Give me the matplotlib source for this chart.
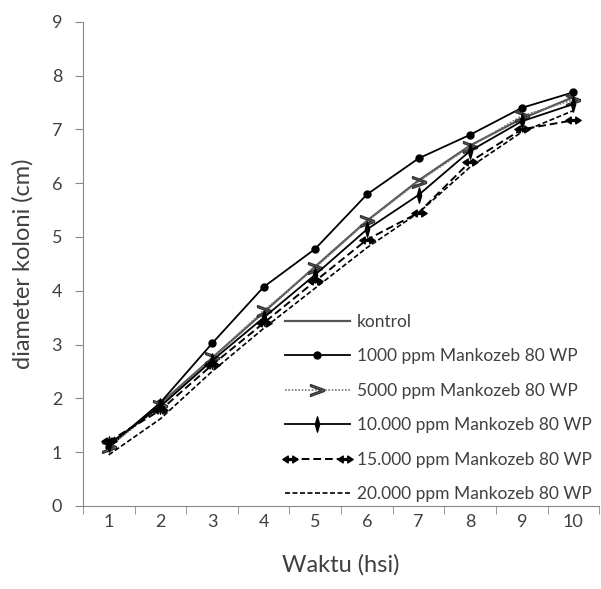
import numpy as np
import matplotlib
matplotlib.use("Agg")
import matplotlib.pyplot as plt
from matplotlib.legend_handler import HandlerLine2D
from matplotlib.path import Path

plt.rcParams['font.family'] = ['Lato', 'DejaVu Sans']

# data
days = [1, 2, 3, 4, 5, 6, 7, 8, 9, 10]
kontrol = [1.10, 1.90, 2.75, 3.60, 4.45, 5.30, 6.05, 6.70, 7.20, 7.60]
ppm1000 = [1.10, 1.92, 3.02, 4.07, 4.78, 5.79, 6.46, 6.90, 7.40, 7.69]
ppm5000 = [1.10, 1.85, 2.75, 3.63, 4.43, 5.29, 6.03, 6.68, 7.25, 7.55]
ppm10000 = [1.15, 1.85, 2.70, 3.50, 4.30, 5.14, 5.78, 6.60, 7.15, 7.47]
ppm15000 = [1.20, 1.78, 2.62, 3.40, 4.18, 4.95, 5.45, 6.40, 7.00, 7.17]
ppm20000 = [0.95, 1.62, 2.50, 3.30, 4.05, 4.80, 5.45, 6.30, 6.95, 7.35]
labels = ["kontrol", "1000 ppm Mankozeb 80 WP", "5000 ppm Mankozeb 80 WP",
          "10.000 ppm Mankozeb 80 WP", "15.000 ppm Mankozeb 80 WP",
          "20.000 ppm Mankozeb 80 WP"]

txt = "#404040"

# double arrow marker
darrow = Path([(-1, 0), (-0.3, 0.45), (-0.3, 0.12), (0.3, 0.12), (0.3, 0.45), (1, 0),
               (0.3, -0.45), (0.3, -0.12), (-0.3, -0.12), (-0.3, -0.45), (-1, 0)],
              [Path.MOVETO] + [Path.LINETO] * 9 + [Path.CLOSEPOLY])
# thin diamond
tdiamond = Path([(0, 1), (0.28, 0), (0, -1), (-0.28, 0), (0, 1)],
                [Path.MOVETO] + [Path.LINETO] * 3 + [Path.CLOSEPOLY])


class RightMarker(HandlerLine2D):
    """marker only at the right end of the legend line"""
    def get_xdata(self, legend, xdescent, ydescent, width, height, fontsize):
        xdata, _ = super().get_xdata(legend, xdescent, ydescent, width, height, fontsize)
        return xdata, np.array([xdata[-1]])


fig = plt.figure(figsize=(6.01, 5.89), dpi=100)
ax = fig.add_axes([0.138, 0.141, 0.859, 0.822])

l0, = ax.plot(days, kontrol, color="#555555", lw=1.6, label=labels[0])
l1, = ax.plot(days, ppm1000, color="black", lw=1.3, marker="o", ms=5, label=labels[1])
l2, = ax.plot(days, ppm5000, color="#777777", lw=1.2, ls=(0, (1, 1)),
              marker="$>$", ms=10, mec="#333333", label=labels[2])
l3, = ax.plot(days, ppm10000, color="black", lw=1.3, marker=tdiamond, ms=11,
              mfc="black", label=labels[3])
l4, = ax.plot(days, ppm15000, color="black", lw=1.4, ls=(0, (4, 2)),
              marker=darrow, ms=11, mfc="black", label=labels[4])
l5, = ax.plot(days, ppm20000, color="black", lw=1.2, ls=(0, (3, 1.5)), label=labels[5])

ax.set_xlim(0.5, 10.5)
ax.set_ylim(0, 9)
ax.set_yticks(range(0, 10))
ax.set_xticks(days)
ax.set_xticks(np.arange(0.5, 11, 1), minor=True)
ax.tick_params(axis="x", which="major", length=0, labelsize=13, pad=6, labelcolor=txt)
ax.tick_params(axis="x", which="minor", length=6, color="#888888")
ax.tick_params(axis="y", length=6, color="#888888", labelsize=13, pad=9, labelcolor=txt)

for side in ["top", "right"]:
    ax.spines[side].set_visible(False)
for side in ["left", "bottom"]:
    ax.spines[side].set_color("#888888")

ax.set_ylabel("diameter koloni (cm)", fontsize=17, color=txt, labelpad=13)
ax.set_xlabel("Waktu (hsi)", fontsize=17, color=txt, labelpad=17)

hm = {l1: RightMarker(numpoints=1), l2: RightMarker(numpoints=1),
      l3: RightMarker(numpoints=1), l4: HandlerLine2D(numpoints=2)}
ax.legend(handles=[l0, l1, l2, l3, l4, l5], frameon=False, loc="lower left",
          bbox_to_anchor=(0.391, 0.008), borderpad=0, borderaxespad=0,
          fontsize=12.5, handlelength=3.75, labelspacing=1.06, handletextpad=0.4,
          labelcolor=txt, handler_map=hm)

fig.savefig("out.png", dpi=100)
